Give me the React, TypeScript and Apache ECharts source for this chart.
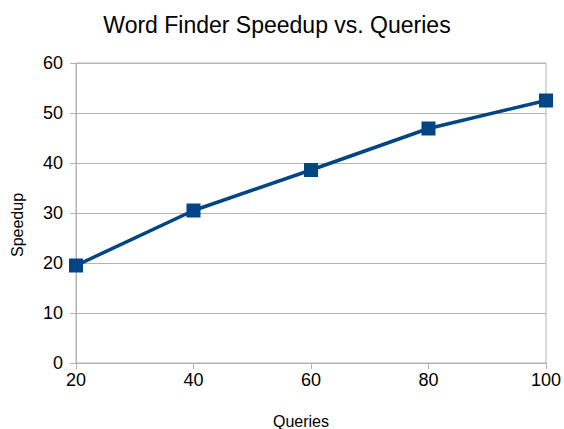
import React, { useEffect, useRef } from "react";
import * as echarts from "echarts";

const queries = [20, 40, 60, 80, 100];
const speedup = [19.5, 30.5, 38.6, 46.9, 52.5];
const titleText = "Word Finder Speedup vs. Queries";
const xName = "Queries";
const yName = "Speedup";

export default function App() {
  const ref = useRef<HTMLDivElement>(null);
  useEffect(() => {
    if (!ref.current) return;
    const chart = echarts.init(ref.current, undefined, { renderer: "svg" });
    const font = "'Liberation Sans', Arial, sans-serif";
    chart.setOption({
      animation: false,
      backgroundColor: "#ffffff",
      textStyle: { fontFamily: font },
      title: {
        text: titleText,
        left: 272,
        top: 8,
        textAlign: "center",
        textStyle: { fontFamily: font, fontSize: 23, fontWeight: "normal", color: "#000" },
      },
      grid: {
        left: 76,
        right: 18,
        top: 63,
        bottom: 66,
        show: true,
        borderColor: "#b3b3b3",
        borderWidth: 1,
      },
      xAxis: {
        type: "value",
        min: 20,
        max: 100,
        interval: 20,
        axisLine: { show: true, lineStyle: { color: "#b3b3b3", width: 1 } },
        axisTick: { show: true, length: 6, lineStyle: { color: "#b3b3b3" } },
        splitLine: { show: false },
        axisLabel: { color: "#000", fontSize: 18, margin: 8, fontFamily: font },
      },
      yAxis: {
        type: "value",
        min: 0,
        max: 60,
        interval: 10,
        axisLine: { show: true, lineStyle: { color: "#b3b3b3", width: 1 } },
        axisTick: { show: true, length: 6, lineStyle: { color: "#b3b3b3" } },
        splitLine: { show: true, lineStyle: { color: "#b3b3b3", width: 1 } },
        axisLabel: { color: "#000", fontSize: 18, margin: 13, fontFamily: font },
      },
      graphic: [
        {
          type: "text",
          x: 301,
          y: 421,
          style: { text: xName, fontSize: 16, fontFamily: font, fill: "#000", textAlign: "center", textVerticalAlign: "middle" },
        },
        {
          type: "text",
          x: 17,
          y: 225,
          rotation: Math.PI / 2,
          style: { text: yName, fontSize: 16, fontFamily: font, fill: "#000", textAlign: "center", textVerticalAlign: "middle" },
        },
      ],
      series: [
        {
          type: "line",
          data: queries.map((q, i) => [q, speedup[i]]),
          symbol: "rect",
          symbolSize: 14,
          showSymbol: true,
          itemStyle: { color: "#004586" },
          lineStyle: { color: "#004586", width: 3.5 },
        },
      ],
    });
    return () => chart.dispose();
  }, []);
  return <div ref={ref} style={{ width: 564, height: 429, position: "absolute", left: 0, top: 0 }} />;
}
